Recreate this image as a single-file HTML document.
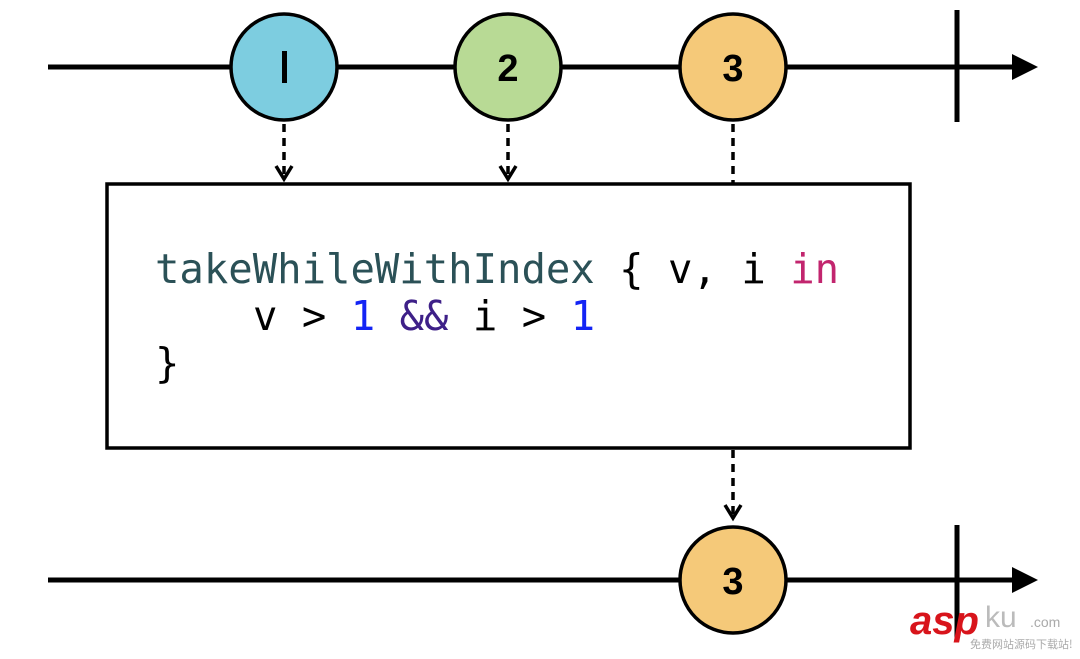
<!DOCTYPE html>
<html><head><style>body{margin:0;background:#fff;width:1080px;height:654px;overflow:hidden}</style></head>
<body>
<svg width="1080" height="654" xmlns="http://www.w3.org/2000/svg">
<g stroke="#000" stroke-width="5" fill="none">
<line x1="48" y1="67" x2="1015" y2="67"/>
<line x1="957" y1="10" x2="957" y2="122"/>
<line x1="48" y1="580" x2="1015" y2="580"/>
<line x1="957" y1="525" x2="957" y2="640"/>
</g>
<polygon points="1012,54 1038,67 1012,80" fill="#000"/>
<polygon points="1012,567 1038,580 1012,593" fill="#000"/>
<g stroke="#000" stroke-width="3.5" stroke-dasharray="8,6" fill="none">
<line x1="284" y1="124" x2="284" y2="178"/>
<line x1="508" y1="124" x2="508" y2="178"/>
<line x1="733" y1="124" x2="733" y2="184"/>
<line x1="733" y1="450" x2="733" y2="516"/>
</g>
<g stroke="#000" stroke-width="3.5" fill="none">
<polyline points="276,166 284,179 292,166"/>
<polyline points="500,166 508,179 516,166"/>
<polyline points="725,505 733,518 741,505"/>
</g>
<rect x="107" y="184" width="803" height="264" fill="#fff" stroke="#000" stroke-width="3.5"/>
<g stroke="#000" stroke-width="3.5">
<circle cx="284" cy="67" r="53" fill="#7dcde0"/>
<circle cx="508" cy="67" r="53" fill="#b8da95"/>
<circle cx="733" cy="67" r="53" fill="#f5c979"/>
<circle cx="733" cy="580" r="53" fill="#f5c979"/>
</g>
<rect x="282" y="51" width="5" height="32" fill="#000"/>
<g font-family="Liberation Sans, sans-serif" font-weight="bold" font-size="38" text-anchor="middle">
<text x="508" y="81">2</text>
<text x="733" y="81">3</text>
<text x="733" y="594">3</text>
</g>
<g font-family="DejaVu Sans Mono, monospace" font-size="40.6">
<text x="155" y="283"><tspan fill="#2b5157">takeWhileWithIndex</tspan><tspan fill="#000"> { v, i </tspan><tspan fill="#c2256e">in</tspan></text>
<text x="253" y="330"><tspan fill="#000">v &gt; </tspan><tspan fill="#1324f5">1</tspan><tspan fill="#3e2088"> &amp;&amp;</tspan><tspan fill="#000"> i &gt; </tspan><tspan fill="#1324f5">1</tspan></text>
<text x="155" y="377" fill="#000">}</text>
</g>
<text x="910" y="634" font-family="Liberation Sans, sans-serif" font-weight="bold" font-style="italic" font-size="40" fill="#d8141b">asp</text>
<text x="985" y="627" font-family="Liberation Sans, sans-serif" font-size="30" fill="#bbb">ku</text>
<text x="1030" y="627" font-family="Liberation Sans, sans-serif" font-size="14" fill="#aaa">.com</text>
<text x="970" y="648" font-family="Noto Sans CJK SC, sans-serif" font-size="11" fill="#aaa">免费网站源码下载站!</text>
</svg>
</body></html>
